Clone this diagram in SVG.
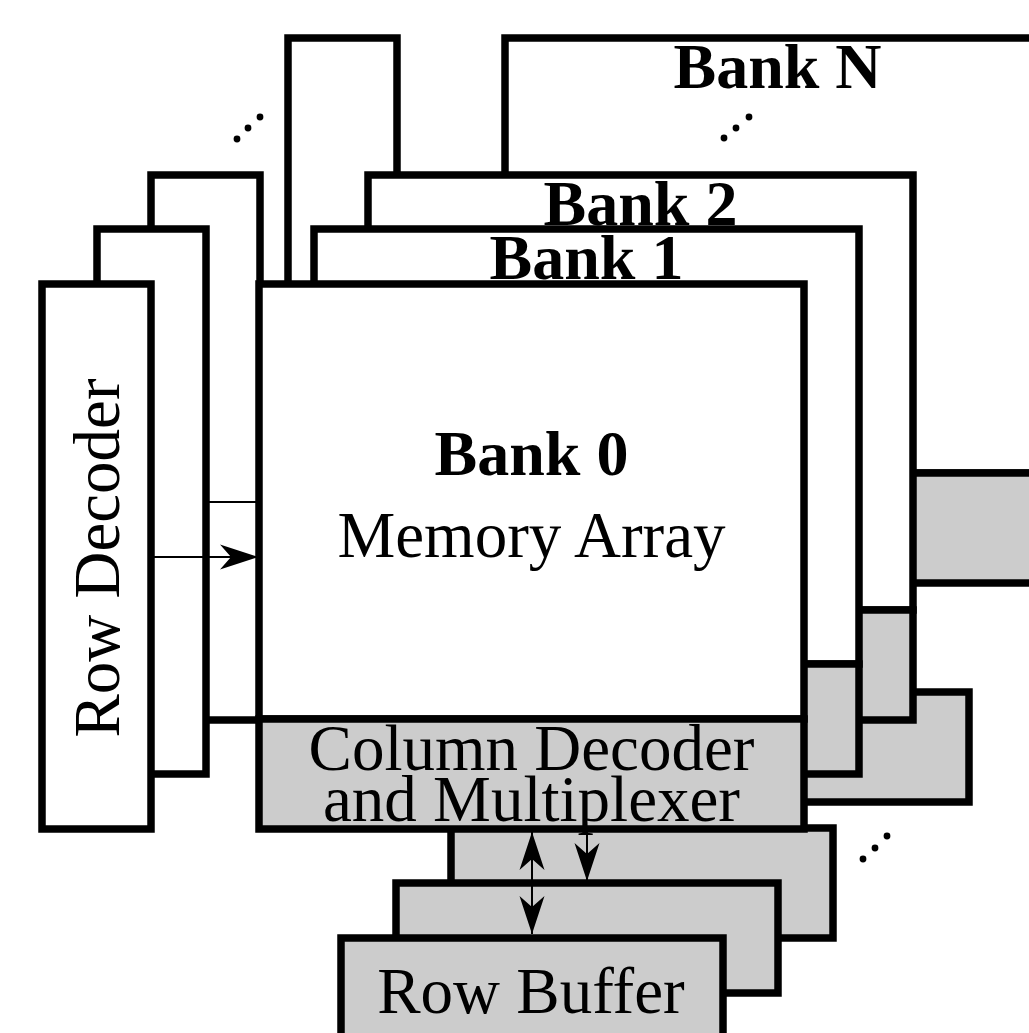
<svg xmlns="http://www.w3.org/2000/svg" width="1029" height="1033" viewBox="0 0 1029 1033">
  <style>
    .box { fill: #ffffff; stroke: #000000; stroke-width: 7.5; stroke-linejoin: miter; }
    .grey { fill: #cccccc; stroke: #000000; stroke-width: 7.5; stroke-linejoin: miter; }
    .wire { fill: none; stroke: #000000; stroke-width: 2; }
    .label { font-family: "Liberation Serif", "Times New Roman", serif; font-size: 65px; fill: #000000; text-anchor: middle; }
    .title { font-family: "Liberation Serif", "Times New Roman", serif; font-size: 64px; font-weight: bold; fill: #000000; text-anchor: middle; }
    .dot { fill: #000000; }
  </style>
  <defs>
    <marker id="head" markerUnits="userSpaceOnUse" markerWidth="40" markerHeight="26" viewBox="-39 -13 40 26" refX="0" refY="0" orient="auto-start-reverse">
      <path d="M0,0 L-38,-12.5 L-27,0 L-38,12.5 Z" fill="#000000"/>
    </marker>
  </defs>

  <rect x="0" y="0" width="1029" height="1033" fill="#ffffff"/>

  <!-- farthest bank -->
  <g id="bank-n" transform="translate(246,-246)">
    <rect class="box" x="42" y="284" width="109" height="545"/>
    <rect class="box" x="259" y="284" width="545" height="435"/>
    <rect class="grey" x="259" y="719" width="545" height="110"/>
    <text class="title" x="531.5" y="334">Bank N</text>
  </g>
  <g id="row-buffer-n">
    <rect class="grey" x="587" y="692" width="382" height="110"/>
  </g>

  <!-- ellipses marking the omitted banks -->
  <g id="ellipsis-banks">
    <circle class="dot" cx="237" cy="139" r="3.4"/>
    <circle class="dot" cx="248" cy="128" r="3.4"/>
    <circle class="dot" cx="260" cy="117" r="3.4"/>
    <circle class="dot" cx="724" cy="138" r="3.4"/>
    <circle class="dot" cx="736" cy="128" r="3.4"/>
    <circle class="dot" cx="749" cy="117" r="3.4"/>
  </g>

  <g id="bank-2" transform="translate(109,-109)">
    <rect class="box" x="42" y="284" width="109" height="545"/>
    <rect class="box" x="259" y="284" width="545" height="435"/>
    <rect class="grey" x="259" y="719" width="545" height="110"/>
    <text class="title" x="531.5" y="334">Bank 2</text>
  </g>

  <g id="bank-1" transform="translate(55,-55)">
    <rect class="box" x="42" y="284" width="109" height="545"/>
    <rect class="box" x="259" y="284" width="545" height="435"/>
    <rect class="grey" x="259" y="719" width="545" height="110"/>
    <text class="title" x="531.5" y="334">Bank 1</text>
  </g>

  <g id="row-buffer-2">
    <rect class="grey" x="451" y="828" width="382" height="110"/>
  </g>
  <g id="row-buffer-1">
    <rect class="grey" x="396" y="883" width="382" height="110"/>
  </g>

  <g id="bank-0">
    <rect class="box" x="42" y="284" width="109" height="545"/>
    <text class="label" transform="translate(119,558) rotate(-90)" x="0" y="0">Row Decoder</text>
    <rect class="box" x="259" y="284" width="545" height="435"/>
    <text class="title" x="531.5" y="475">Bank 0</text>
    <text class="label" x="531.5" y="557">Memory Array</text>
    <rect class="grey" x="259" y="719" width="545" height="110"/>
    <text class="label" x="531.5" y="770">Column Decoder</text>
    <text class="label" x="531.5" y="821">and Multiplexer</text>
  </g>

  <g id="row-buffer-0">
    <rect class="grey" x="341" y="938" width="382" height="110"/>
    <text class="label" x="531" y="1013">Row Buffer</text>
  </g>

  <g id="connectors">
    <line class="wire" x1="151" y1="557" x2="258" y2="557" marker-end="url(#head)"/>
    <line class="wire" x1="206" y1="502" x2="259" y2="502"/>
    <line class="wire" x1="532" y1="832" x2="532" y2="934" marker-start="url(#head)" marker-end="url(#head)"/>
    <line class="wire" x1="587" y1="829" x2="587" y2="881" marker-end="url(#head)"/>
  </g>

  <g id="ellipsis-buffers">
    <circle class="dot" cx="863" cy="859" r="3.4"/>
    <circle class="dot" cx="875" cy="848" r="3.4"/>
    <circle class="dot" cx="887" cy="836" r="3.4"/>
  </g>
</svg>
